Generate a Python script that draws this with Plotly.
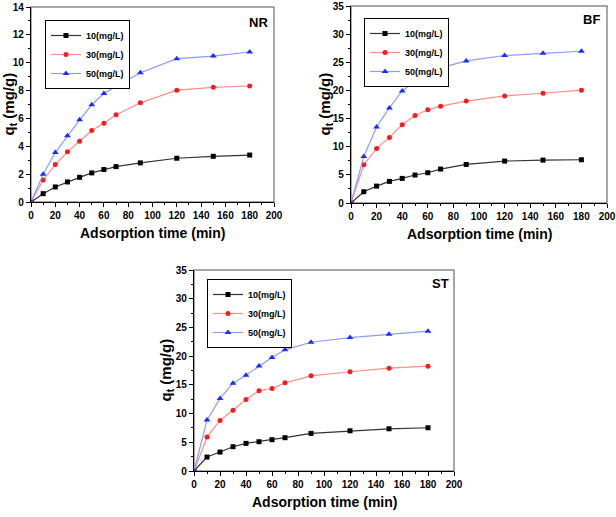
import plotly.graph_objects as go

time_min = [0, 10, 20, 30, 40, 50, 60, 70, 90, 120, 150, 180]
series_names = ["10(mg/L)", "30(mg/L)", "50(mg/L)"]

nr_10 = [0, 0.60, 1.08, 1.44, 1.77, 2.09, 2.33, 2.54, 2.81, 3.14, 3.28, 3.37]
nr_30 = [0, 1.58, 2.69, 3.60, 4.36, 5.13, 5.66, 6.26, 7.12, 8.03, 8.23, 8.33]
nr_50 = [0, 1.99, 3.55, 4.75, 5.90, 6.98, 7.79, 8.30, 9.28, 10.29, 10.48, 10.77]

bf_10 = [0, 2.00, 3.00, 3.84, 4.37, 4.97, 5.38, 6.03, 6.85, 7.45, 7.62, 7.68]
bf_30 = [0, 6.80, 9.70, 11.65, 13.90, 15.55, 16.56, 17.20, 18.10, 19.03, 19.50, 20.04]
bf_50 = [0, 8.28, 13.50, 16.90, 19.90, 21.70, 23.00, 24.00, 25.24, 26.20, 26.60, 26.96]

st_10 = [0, 2.43, 3.30, 4.23, 4.81, 5.10, 5.45, 5.80, 6.55, 7.00, 7.35, 7.53]
st_30 = [0, 5.90, 8.80, 10.60, 12.46, 13.96, 14.37, 15.35, 16.57, 17.28, 17.90, 18.25]
st_50 = [0, 8.86, 12.63, 15.30, 16.69, 18.30, 19.76, 21.10, 22.42, 23.24, 23.82, 24.35]

x_ticks = [0, 20, 40, 60, 80, 100, 120, 140, 160, 180, 200]
nr_yticks = [0, 2, 4, 6, 8, 10, 12, 14]
bf_yticks = [0, 5, 10, 15, 20, 25, 30, 35]
st_yticks = [0, 5, 10, 15, 20, 25, 30, 35]

x_title = "Adsorption time (min)"
y_title = "q<sub>t</sub> (mg/g)"

W, H = 616, 517
FONT = "Liberation Sans, Arial, sans-serif"

line_colors = ["#333333", "#ff8c8c", "#8c9cff"]
marker_colors = ["#000000", "#ff1a1a", "#1a2cff"]
symbols = ["square", "circle", "triangle-up"]

panels = [
    # name, data, yticks, ymax, px box (l, t, r, b), legend px (l, t), label px, ytitle offset
    ("NR", [nr_10, nr_30, nr_50], nr_yticks, 14, (31, 7, 274, 202), (45, 20), (258, 23), 22),
    ("BF", [bf_10, bf_30, bf_50], bf_yticks, 35, (351, 6, 607, 203), (364, 18), (591, 20), 26),
    ("ST", [st_10, st_30, st_50], st_yticks, 35, (194, 270, 454, 471), (207, 279), (440, 283), 28),
]

fig = go.Figure()
layout = dict(
    width=W, height=H, margin=dict(l=0, r=0, t=0, b=0, autoexpand=False),
    paper_bgcolor="white", plot_bgcolor="white",
    font=dict(family=FONT, color="black"),
    showlegend=True, shapes=[], annotations=[],
)

for i, (name, data, yticks, ymax, box, leg, lab, yoff) in enumerate(panels):
    l, t, r, b = box
    sfx = "" if i == 0 else str(i + 1)
    xa, ya = "x" + sfx, "y" + sfx
    legname = "legend" if i == 0 else "legend" + str(i + 1)
    for k in range(3):
        fig.add_trace(go.Scatter(
            x=time_min, y=data[k], mode="lines+markers", name=series_names[k],
            xaxis=xa, yaxis=ya, legend=legname,
            line=dict(color=line_colors[k], width=1.2),
            marker=dict(symbol=symbols[k], color=marker_colors[k], size=5 if k < 2 else 6),
        ))
    axis_common = dict(
        showline=True, linecolor="black", linewidth=1.2, mirror=False,
        ticks="outside", ticklen=4, tickwidth=1, tickcolor="black",
        showgrid=False, zeroline=False, automargin=False,
        tickfont=dict(family=FONT, size=10, weight="bold", color="black"),
    )
    layout["xaxis" + sfx] = dict(
        axis_common, domain=[l / W, r / W], anchor=ya, range=[0, 200],
        tickvals=x_ticks,
        minor=dict(ticks="outside", ticklen=2, tickwidth=1, tickcolor="black", dtick=10, tick0=0),
    )
    layout["yaxis" + sfx] = dict(
        axis_common, domain=[1 - b / H, 1 - t / H], anchor=xa, range=[0, ymax],
        tickvals=yticks,
        minor=dict(ticks="outside", ticklen=2, tickwidth=1, tickcolor="black",
                   dtick=(yticks[1] - yticks[0]) / 2, tick0=0),
    )
    layout["shapes"].append(dict(
        type="rect", xref=xa + " domain", yref=ya + " domain", x0=0, x1=1, y0=0, y1=1,
        line=dict(color="#8a8a8a", width=1.5), layer="below",
    ))
    layout[legname] = dict(
        x=leg[0] / W, y=1 - leg[1] / H, xanchor="left", yanchor="top",
        bgcolor="white", bordercolor="black", borderwidth=1,
        font=dict(family=FONT, size=9, weight="bold", color="black"),
        tracegroupgap=0, itemwidth=30,
    )
    layout["annotations"] += [
        dict(text="<b>" + name + "</b>", x=lab[0] / W, y=1 - lab[1] / H, xref="paper", yref="paper",
             xanchor="center", yanchor="middle", showarrow=False,
             font=dict(family=FONT, size=13, color="black")),
        dict(text="<b>" + x_title + "</b>", x=(l + r) / 2 / W, y=1 - (b + 31) / H,
             xref="paper", yref="paper", xanchor="center", yanchor="middle", showarrow=False,
             font=dict(family=FONT, size=14, color="black")),
        dict(text="<b>" + y_title + "</b>", x=(l - yoff) / W, y=1 - (t + b) / 2 / H,
             xref="paper", yref="paper", xanchor="center", yanchor="middle", showarrow=False,
             textangle=-90, font=dict(family=FONT, size=15, color="black")),
    ]

fig.update_layout(**layout)
fig.write_html("out.html", config={"displayModeBar": False},
               post_script="document.body.style.margin='0';document.body.style.overflow='hidden';")
